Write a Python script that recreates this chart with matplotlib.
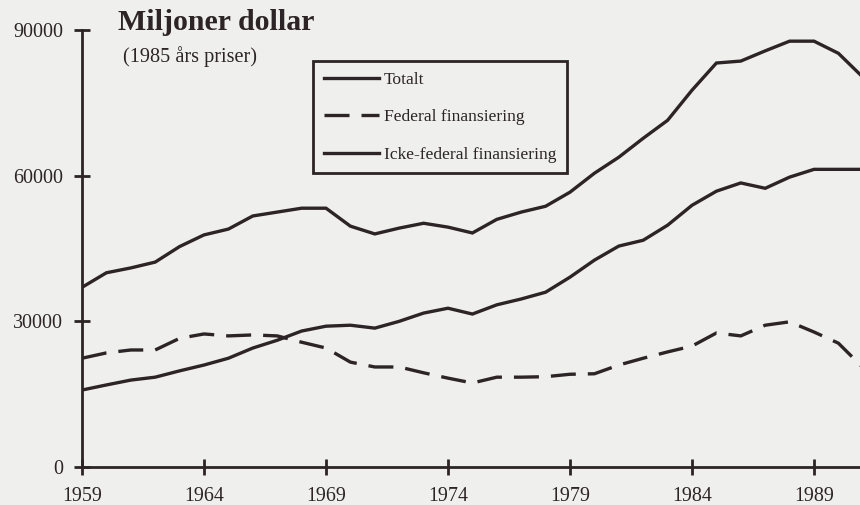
import matplotlib
matplotlib.use("Agg")
import matplotlib.pyplot as plt

years = list(range(1959, 1992))
totalt = [37000, 40000, 41000, 42200, 45400, 47800, 49000, 51700, 52500, 53300,
          53300, 49600, 48000, 49200, 50200, 49400, 48200, 51000, 52500, 53700,
          56600, 60500, 63800, 67700, 71400, 77600, 83200, 83600, 85700, 87700,
          87700, 85200, 80300]
federal = [22400, 23500, 24100, 24100, 26500, 27400, 27000, 27200, 27000, 25700,
           24500, 21600, 20600, 20600, 19400, 18300, 17300, 18500, 18500, 18600,
           19100, 19200, 21000, 22400, 23700, 24900, 27600, 27000, 29200, 29900,
           27800, 25500, 20500]
icke_federal = [15850, 16900, 17900, 18500, 19800, 21000, 22400, 24500, 26100, 28000,
                29000, 29200, 28600, 30000, 31700, 32700, 31500, 33400, 34600, 36000,
                39100, 42600, 45500, 46700, 49800, 53900, 56800, 58500, 57400, 59700,
                61300, 61300, 61300]
labels = ["Totalt", "Federal finansiering", "Icke-federal finansiering"]
xticks = [1959, 1964, 1969, 1974, 1979, 1984, 1989]
yticks = [0, 30000, 60000, 90000]

ink = "#2c2426"
bg = "#efefed"
serif = ["Liberation Serif", "DejaVu Serif"]

fig = plt.figure(figsize=(8.6, 5.05), dpi=100, facecolor=bg)
ax = fig.add_axes([82/860, 38/505, (860-82)/860, (467-30)/505])
ax.set_facecolor(bg)

lw = 2.4
ax.plot(years, totalt, color=ink, lw=lw, label=labels[0], solid_joinstyle="miter")
ax.plot(years, federal, color=ink, lw=lw, dashes=(7.5, 3.6), label=labels[1])
ax.plot(years, icke_federal, color=ink, lw=lw, label=labels[2], solid_joinstyle="miter")

ax.set_xlim(1959, 1959 + (860-82)/24.4)
ax.set_ylim(0, 90000)
ax.set_xticks(xticks)
ax.set_yticks(yticks)
ax.set_xticklabels([str(v) for v in xticks])
ax.set_yticklabels([str(v) for v in yticks])

for s in ["top", "right"]:
    ax.spines[s].set_visible(False)
for s in ["left", "bottom"]:
    ax.spines[s].set_color(ink)
    ax.spines[s].set_linewidth(2.0)
ax.spines["left"].set_bounds(0, 90000)

ax.tick_params(axis="both", direction="inout", length=11, width=2.0, color=ink,
               labelcolor=ink, labelsize=14.4)
ax.tick_params(axis="y", pad=8)
ax.tick_params(axis="x", pad=9)
for lab in ax.get_xticklabels() + ax.get_yticklabels():
    lab.set_fontfamily(serif)

fig.text(118/860, 1 - 23/505, "Miljoner dollar", fontsize=21.5, fontweight="bold",
         family=serif, color=ink, va="center", ha="left")
fig.text(123/860, 1 - 57/505, "(1985 års priser)", fontsize=14.6, family=serif,
         color=ink, va="center", ha="left")

leg = ax.legend(loc="upper left", bbox_to_anchor=(313/860, 1 - 61/505),
                bbox_transform=fig.transFigure, frameon=True, fancybox=False,
                prop={"family": serif, "size": 12.6}, handlelength=3.15,
                handletextpad=0.3, labelspacing=1.22, borderpad=0.6,
                borderaxespad=0)
leg.get_frame().set_edgecolor(ink)
leg.get_frame().set_linewidth(2.0)
leg.get_frame().set_facecolor(bg)
leg.get_frame().set_alpha(1)
for t in leg.get_texts():
    t.set_color(ink)

fig.savefig("out.png", dpi=100, facecolor=bg)
